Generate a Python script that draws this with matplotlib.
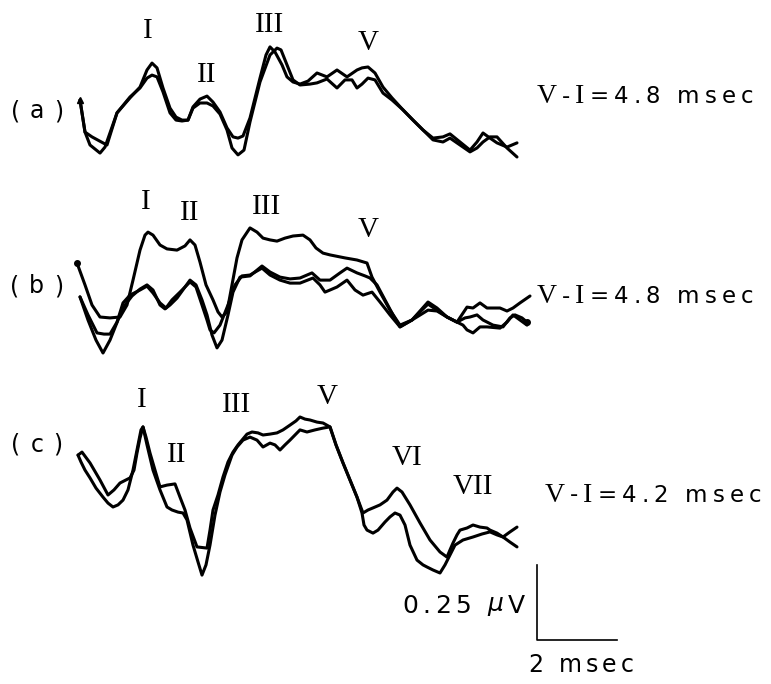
import matplotlib
matplotlib.use("Agg")
import matplotlib.pyplot as plt
import matplotlib.transforms as mtransforms
from matplotlib.textpath import TextToPath
from matplotlib.font_manager import FontProperties
import numpy as np

# ---------------- data (time in msec, amplitude in microvolts) ----------------
# panel (a)
a1_t = [0, 0.125, 0.3, 0.575, 0.675, 0.925, 1.25, 1.5, 1.675, 1.8, 1.925, 2.075, 2.25, 2.4, 2.55, 2.7, 2.825, 3.0,
        3.175, 3.325, 3.5, 3.675, 3.825, 3.95, 4.075, 4.25, 4.5, 4.65, 4.75, 4.875, 5.05, 5.175, 5.325, 5.5, 5.7,
        5.925, 6.175, 6.425, 6.675, 6.925, 7.05, 7.2, 7.375, 7.575, 7.8, 8.075, 8.325, 8.575, 8.825, 9.075, 9.25,
        9.5, 9.75, 9.925, 10.075, 10.25, 10.425, 10.675, 10.925]
a1_v = [0, -0.107, -0.123, -0.143, -0.15, -0.043, 0.007, 0.043, 0.1, 0.123, 0.107, 0.04, -0.027, -0.057, -0.067,
        -0.067, -0.023, 0.003, 0.013, -0.007, -0.04, -0.093, -0.123, -0.127, -0.12, -0.06, 0.073, 0.15, 0.177, 0.16,
        0.117, 0.077, 0.06, 0.053, 0.063, 0.09, 0.077, 0.1, 0.077, 0.1, 0.107, 0.11, 0.09, 0.043, 0.007, -0.033,
        -0.067, -0.1, -0.127, -0.123, -0.113, -0.14, -0.167, -0.14, -0.11, -0.127, -0.143, -0.157, -0.143]
a2_t = [0, 0.125, 0.25, 0.5, 0.625, 0.925, 1.25, 1.5, 1.675, 1.8, 1.925, 2.075, 2.25, 2.4, 2.55, 2.7, 2.825, 3.0,
        3.175, 3.325, 3.5, 3.675, 3.8, 3.95, 4.1, 4.25, 4.5, 4.75, 4.925, 5.025, 5.175, 5.325, 5.5, 5.75, 5.925,
        6.175, 6.425, 6.625, 6.8, 6.925, 7.05, 7.2, 7.375, 7.575, 7.8, 8.075, 8.325, 8.575, 8.825, 9.075, 9.25,
        9.5, 9.75, 9.925, 10.075, 10.25, 10.425, 10.675, 10.925]
a2_v = [0, -0.107, -0.15, -0.177, -0.157, -0.043, 0.01, 0.04, 0.073, 0.083, 0.077, 0.027, -0.043, -0.067, -0.07,
        -0.067, -0.027, -0.01, -0.01, -0.02, -0.047, -0.1, -0.16, -0.183, -0.167, -0.073, 0.06, 0.15, 0.173, 0.167,
        0.117, 0.067, 0.05, 0.053, 0.057, 0.07, 0.04, 0.067, 0.067, 0.04, 0.053, 0.073, 0.067, 0.023, 0, -0.033,
        -0.067, -0.1, -0.133, -0.14, -0.127, -0.15, -0.173, -0.16, -0.14, -0.123, -0.123, -0.16, -0.19]

# panel (b)
b1_t = [-0.075, 0.125, 0.3, 0.5, 0.75, 1.0, 1.175, 1.325, 1.5, 1.625, 1.7, 1.825, 2.0, 2.175, 2.425, 2.625, 2.75,
        2.875, 3.0, 3.15, 3.325, 3.45, 3.55, 3.675, 3.8, 3.925, 4.05, 4.25, 4.425, 4.575, 4.75, 4.925, 5.125, 5.325,
        5.575, 5.75, 5.9, 6.075, 6.25, 6.625, 6.925, 7.175, 7.3, 7.5, 7.75, 8.0, 8.3, 8.5, 8.7, 8.925, 9.175, 9.425,
        9.675, 9.825, 10.0, 10.175, 10.5, 10.675, 10.825, 11.0, 11.25]
b1_v = [0.09, 0.017, -0.05, -0.09, -0.093, -0.09, -0.05, 0.033, 0.133, 0.183, 0.193, 0.183, 0.15, 0.137, 0.133,
        0.147, 0.167, 0.15, 0.093, 0.017, -0.033, -0.073, -0.09, -0.073, 0.017, 0.107, 0.167, 0.207, 0.193, 0.173,
        0.167, 0.163, 0.173, 0.18, 0.183, 0.167, 0.14, 0.123, 0.117, 0.107, 0.1, 0.09, 0.043, -0.007, -0.067,
        -0.117, -0.1, -0.073, -0.047, -0.067, -0.09, -0.107, -0.057, -0.06, -0.043, -0.06, -0.06, -0.07, -0.06,
        -0.043, -0.02]
b2_t = [0, 0.2, 0.4, 0.575, 0.75, 0.95, 1.125, 1.3, 1.5, 1.675, 1.825, 2.0, 2.125, 2.25, 2.425, 2.625, 2.75, 2.9,
        3.05, 3.175, 3.3, 3.425, 3.55, 3.7, 3.825, 4.0, 4.25, 4.55, 4.75, 5.0, 5.25, 5.5, 5.8, 6.0, 6.25, 6.5, 6.675,
        6.925, 7.125, 7.25, 7.425, 7.625, 7.825, 8.0, 8.3, 8.7, 8.925, 9.175, 9.425, 9.625, 9.75, 9.925, 10.075,
        10.325, 10.575, 10.75, 10.875, 11.05, 11.175]
b2_v = [-0.023, -0.1, -0.167, -0.21, -0.167, -0.1, -0.05, -0.02, 0.003, 0.017, 0, -0.05, -0.063, -0.05, -0.027,
        0.01, 0.033, 0.017, -0.033, -0.083, -0.15, -0.193, -0.167, -0.083, -0.007, 0.043, 0.047, 0.08, 0.06, 0.043,
        0.037, 0.04, 0.057, 0.033, 0.033, 0.057, 0.073, 0.057, 0.047, 0.04, 0.017, -0.033, -0.083, -0.123, -0.1,
        -0.067, -0.07, -0.09, -0.107, -0.093, -0.09, -0.083, -0.1, -0.117, -0.123, -0.093, -0.083, -0.093, -0.107]
b3_t = [0, 0.2, 0.425, 0.6, 0.75, 0.925, 1.075, 1.25, 1.5, 1.675, 1.825, 2.0, 2.15, 2.3, 2.5, 2.75, 2.9, 3.05,
        3.175, 3.25, 3.35, 3.5, 3.7, 3.875, 4.05, 4.25, 4.55, 4.75, 5.0, 5.25, 5.5, 5.825, 6.0, 6.125, 6.25, 6.425,
        6.675, 6.875, 7.075, 7.3, 7.5, 7.75, 8.0, 8.3, 8.7, 8.925, 9.175, 9.425, 9.575, 9.675, 9.825, 10.0, 10.175,
        10.5, 10.675, 10.825, 11.0, 11.175]
b3_v = [-0.023, -0.083, -0.143, -0.147, -0.147, -0.107, -0.043, -0.017, 0, 0.013, -0.01, -0.043, -0.06, -0.033,
        -0.007, 0.027, 0.01, -0.05, -0.1, -0.133, -0.143, -0.117, -0.05, 0.017, 0.047, 0.05, 0.073, 0.05, 0.033,
        0.023, 0.023, 0.04, 0.017, -0.007, 0, 0.01, 0.033, 0, -0.017, -0.007, -0.04, -0.083, -0.123, -0.1, -0.04,
        -0.06, -0.09, -0.107, -0.117, -0.133, -0.143, -0.123, -0.123, -0.127, -0.107, -0.083, -0.1, -0.117]

# panel (c)
c1_t = [-0.05, 0.05, 0.25, 0.5, 0.7, 0.85, 1.0, 1.25, 1.35, 1.425, 1.5, 1.575, 1.65, 1.75, 1.875, 2.0, 2.175, 2.375,
        2.5, 2.625, 2.75, 2.925, 3.175, 3.25, 3.325, 3.45, 3.575, 3.7, 3.825, 3.95, 4.05, 4.175, 4.3, 4.45, 4.575,
        4.75, 4.925, 5.075, 5.25, 5.4, 5.5, 5.625, 5.75, 5.925, 6.075, 6.25, 6.4, 6.575, 6.75, 6.925, 7.075, 7.2,
        7.325, 7.5, 7.675, 7.825, 7.925, 8.05, 8.25, 8.5, 8.75, 9.0, 9.175, 9.25, 9.325, 9.425, 9.5, 9.675, 9.825,
        10.0, 10.175, 10.25, 10.425, 10.575, 10.75, 10.925]
c1_v = [0.083, 0.093, 0.057, 0, -0.05, -0.033, -0.01, 0.007, 0.033, 0.09, 0.14, 0.177, 0.143, 0.09, 0.033, -0.023,
        -0.017, -0.013, -0.057, -0.1, -0.16, -0.223, -0.227, -0.167, -0.1, -0.05, 0.01, 0.06, 0.093, 0.117, 0.133,
        0.153, 0.16, 0.157, 0.15, 0.153, 0.157, 0.167, 0.183, 0.197, 0.21, 0.203, 0.2, 0.193, 0.19, 0.177, 0.117,
        0.057, 0, -0.057, -0.11, -0.1, -0.093, -0.083, -0.067, -0.04, -0.027, -0.04, -0.083, -0.143, -0.2, -0.24,
        -0.257, -0.233, -0.21, -0.183, -0.167, -0.16, -0.15, -0.157, -0.16, -0.167, -0.177, -0.19, -0.173, -0.157]
c2_t = [-0.05, 0.025, 0.125, 0.25, 0.4, 0.575, 0.7, 0.825, 0.95, 1.075, 1.2, 1.325, 1.425, 1.525, 1.575, 1.675,
        1.825, 2.0, 2.175, 2.3, 2.45, 2.575, 2.675, 2.825, 2.95, 3.05, 3.15, 3.25, 3.375, 3.5, 3.625, 3.8, 3.925,
        4.075, 4.25, 4.425, 4.575, 4.75, 4.875, 5.0, 5.125, 5.25, 5.375, 5.5, 5.675, 5.875, 6.075, 6.25, 6.4, 6.575,
        6.75, 6.925, 7.05, 7.1, 7.175, 7.325, 7.45, 7.625, 7.75, 7.875, 8.0, 8.125, 8.25, 8.425, 8.575, 8.675, 8.825,
        9.0, 9.125, 9.25, 9.375, 9.575, 9.825, 10.05, 10.25, 10.425, 10.575, 10.75, 10.925]
c2_v = [0.083, 0.06, 0.033, 0.007, -0.027, -0.057, -0.077, -0.09, -0.083, -0.067, -0.033, 0.033, 0.1, 0.167, 0.177,
        0.117, 0.033, -0.033, -0.09, -0.1, -0.107, -0.11, -0.133, -0.217, -0.273, -0.317, -0.283, -0.217, -0.117,
        -0.04, 0.017, 0.083, 0.11, 0.133, 0.143, 0.133, 0.11, 0.123, 0.117, 0.1, 0.117, 0.133, 0.15, 0.167, 0.16,
        0.167, 0.173, 0.177, 0.117, 0.057, 0, -0.057, -0.11, -0.15, -0.167, -0.177, -0.167, -0.14, -0.123, -0.11,
        -0.117, -0.15, -0.217, -0.267, -0.283, -0.29, -0.3, -0.31, -0.283, -0.25, -0.217, -0.2, -0.19, -0.18,
        -0.173, -0.183, -0.19, -0.207, -0.223]

panel_names = ["(a)", "(b)", "(c)"]
interval_labels = ["V-I=4.8 msec", "V-I=4.8 msec", "V-I=4.2 msec"]
# wave labels: (numeral, latency msec, height above panel baseline in microvolts)
a_waves = [("I", 1.7, 0.23), ("II", 3.175, 0.083), ("III", 4.75, 0.25), ("V", 7.2, 0.19)]
b_waves = [("I", 1.65, 0.293), ("II", 2.75, 0.257), ("III", 4.675, 0.277), ("V", 7.2, 0.2)]
c_waves = [("I", 1.55, 0.267), ("II", 2.425, 0.083), ("III", 3.925, 0.25), ("V", 6.175, 0.277),
           ("VI", 8.175, 0.073), ("VII", 9.825, -0.023)]
scale_ms = 2.0
scale_uv = 0.25
scale_v_label = ["0", ".", "2", "5", " ", "$\\mu$", "V"]
scale_t_label = "2 msec"

# ---------------- layout ----------------
offsets = [1.2667, 0.6333, 0.0]          # vertical stacking of the three panels (µV)
traces = [[(a1_t, a1_v), (a2_t, a2_v)],
          [(b1_t, b1_v), (b2_t, b2_v), (b3_t, b3_v)],
          [(c1_t, c1_v), (c2_t, c2_v)]]
waves = [a_waves, b_waves, c_waves]
label_x = [11.425, 11.425, 11.625]
label_dy = [0.01, -0.023, -0.05]
name_dy = [-0.037, 0.013, 0.117]

SANS = ["DejaVu Sans"]
SERIF = ["Liberation Serif", "DejaVu Serif"]

fig = plt.figure(figsize=(7.71, 6.84), dpi=100)
ax = fig.add_axes([0, 0, 1, 1])
ax.set_xlim(-2.0, 17.275)
ax.set_ylim(-0.68, 1.6)
ax.axis("off")

_ttp = TextToPath()


def tracked_text(x, y, s, size, track, serif_chars=(), serif_size=None, ha="left"):
    """Place text one token at a time with extra letter spacing (in points)."""
    items = []
    for i, ch in enumerate(s):
        is_serif = i in serif_chars
        fam = SERIF if is_serif else SANS
        sz = (serif_size or size) if is_serif else size
        if ch == " ":
            w = 0.3 * size
        else:
            fp = FontProperties(family=fam, size=sz)
            ismath = ch.startswith("$")
            w, h, d = _ttp.get_text_width_height_descent(ch, fp, ismath=ismath)
        items.append((ch, w, fam, sz))
    total = sum(it[1] for it in items) + track * (len(s) - 1)
    cum = {"left": 0.0, "center": -total / 2, "right": -total}[ha]
    for ch, w, fam, sz in items:
        if ch != " ":
            tr = mtransforms.offset_copy(ax.transData, fig=fig, x=cum, y=0, units="points")
            ax.text(x, y, ch, transform=tr, ha="left", va="center", fontsize=sz,
                    family=fam, color="black")
        cum += w + track


for k in range(3):
    off = offsets[k]
    for t, v in traces[k]:
        ax.plot(t, np.asarray(v) + off, color="black", lw=2.2, solid_joinstyle="round",
                solid_capstyle="round")
    for name, lat, h in waves[k]:
        ax.text(lat, off + h, name, ha="center", va="center", fontsize=21,
                family=SERIF, color="black")
    tracked_text(-1.08, off + name_dy[k], panel_names[k], 17, 7.0, ha="center")
    tracked_text(label_x[k], off + label_dy[k], interval_labels[k], 16.5, 3.6,
                 serif_chars=(0, 2), serif_size=20)

# pen marks at trace ends
ax.plot(a1_t[0], a1_v[0] + offsets[0], "^", color="black", ms=5)
ax.plot(b1_t[0], b1_v[0] + offsets[1], "o", color="black", ms=4)
ax.plot(b2_t[-1], b2_v[-1] + offsets[1], "o", color="black", ms=4)

# scale bar
sx, sy = 11.425, -0.533
ax.plot([sx, sx, sx + scale_ms], [sy + scale_uv, sy, sy], color="black", lw=1.2)
tracked_text(sx - 0.3, sy + scale_uv * 0.45, scale_v_label, 18, 3.2, ha="right")
tracked_text(sx + scale_ms * 0.55, sy - 0.085, scale_t_label, 17, 3.0, ha="center")

fig.savefig("out.png", dpi=100, facecolor="white")
